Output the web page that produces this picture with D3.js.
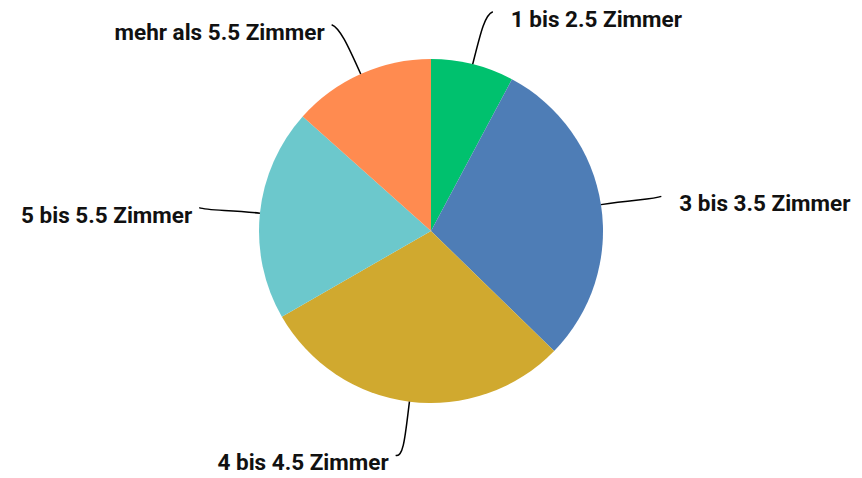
<!DOCTYPE html>
<html>
<head>
<meta charset="utf-8">
<script src="https://cdn.jsdelivr.net/npm/d3@7"></script>
<style>
  body { margin: 0; background: #fff; }
  text { font-family: Roboto, "Open Sans", sans-serif; font-weight: 700; fill: #111; }
</style>
</head>
<body>
<div id="chart"></div>
<script>
// Anteile nach Zimmerzahl (in %, aus dem Bild geschätzt)
const categories = ['1 bis 2.5 Zimmer', '3 bis 3.5 Zimmer', '4 bis 4.5 Zimmer', '5 bis 5.5 Zimmer', 'mehr als 5.5 Zimmer'];
const values = [7.8, 29.5, 29.4, 19.9, 13.4];
const colors = ['#00C16E', '#4E7DB6', '#D0A92F', '#6CC8CC', '#FF8B50'];

const width = 862, height = 478;
const cx = 431, cy = 231, radius = 172;

const svg = d3.select('#chart').append('svg')
    .attr('width', width)
    .attr('height', height);

const g = svg.append('g').attr('transform', `translate(${cx},${cy})`);

const data = categories.map((c, i) => ({ name: c, value: values[i], color: colors[i] }));

const pie = d3.pie().sort(null).value(d => d.value);
const arcs = pie(data);

const arc = d3.arc().innerRadius(0).outerRadius(radius);

// Segmente
g.selectAll('path.slice')
    .data(arcs)
    .enter()
    .append('path')
    .attr('class', 'slice')
    .attr('d', arc)
    .attr('fill', d => d.data.color);

// Punkt auf Kreis bei Winkel a (0 = oben, im Uhrzeigersinn)
function pt(a, r) {
    return [Math.sin(a) * r, -Math.cos(a) * r];
}

// Führungslinien
arcs.forEach(d => {
    const a = (d.startAngle + d.endAngle) / 2;
    const side = Math.sin(a) >= 0 ? 1 : -1;
    const p0 = pt(a, radius);
    const p1 = pt(a, 205);
    const elbow = pt(a, 226);
    const p3 = [elbow[0] + side * 7, elbow[1]];
    const p2 = [elbow[0] - side * 1, elbow[1] + 3];

    g.append('path')
        .attr('d', `M${p0[0]},${p0[1]} C${p1[0]},${p1[1]} ${p2[0]},${p2[1]} ${p3[0]},${p3[1]}`)
        .attr('fill', 'none')
        .attr('stroke', '#000')
        .attr('stroke-width', 1.5);

    g.append('text')
        .attr('x', p3[0] + (side > 0 ? 18 : -7))
        .attr('y', p3[1] + 7)
        .attr('dy', '0.35em')
        .attr('text-anchor', side > 0 ? 'start' : 'end')
        .attr('font-size', '22.5px')
        .text(d.data.name);
});
</script>
</body>
</html>
